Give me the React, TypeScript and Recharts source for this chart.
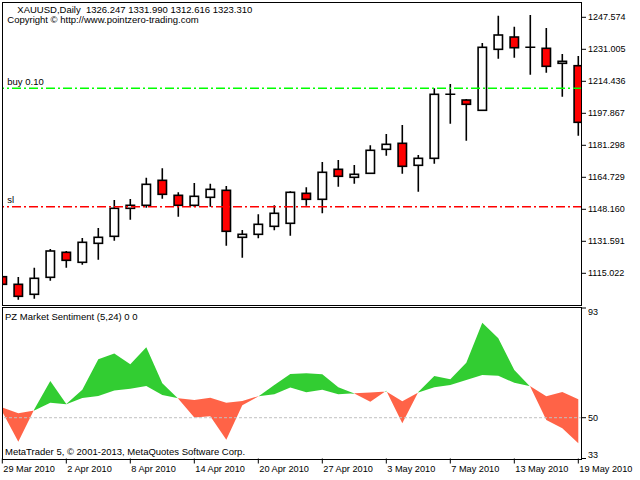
import React from "react";
import { ComposedChart, Bar, Area, XAxis, YAxis, ReferenceLine } from "recharts";

// XAUUSD daily bars, 29 Mar – 19 May 2010
const dates = [
  "29 Mar 2010", "30 Mar 2010", "31 Mar 2010", "1 Apr 2010", "2 Apr 2010",
  "5 Apr 2010", "6 Apr 2010", "7 Apr 2010", "8 Apr 2010", "9 Apr 2010",
  "12 Apr 2010", "13 Apr 2010", "14 Apr 2010", "15 Apr 2010", "16 Apr 2010",
  "19 Apr 2010", "20 Apr 2010", "21 Apr 2010", "22 Apr 2010", "23 Apr 2010",
  "27 Apr 2010", "28 Apr 2010", "29 Apr 2010", "30 Apr 2010", "3 May 2010",
  "4 May 2010", "5 May 2010", "6 May 2010", "7 May 2010", "10 May 2010",
  "11 May 2010", "12 May 2010", "13 May 2010", "14 May 2010", "17 May 2010",
  "18 May 2010", "19 May 2010",
];

const opens = [
  1113.26, 1109.32, 1104.15, 1112.95, 1125.89, 1120.72, 1130.55, 1134.17, 1148.67, 1150.23,
  1163.17, 1155.4, 1150.23, 1154.37, 1157.99, 1133.66, 1135.21, 1139.35, 1140.91, 1156.44,
  1153.34, 1168.87, 1164.73, 1166.8, 1179.22, 1182.33, 1170.94, 1174.56, 1207.7, 1204.75,
  1199.42, 1231.0, 1237.37, 1232.04, 1231.52, 1223.75, 1222.51,
];
const highs = [
  1113.5, 1113.1, 1117.92, 1127.6, 1126.57, 1133.3, 1138.47, 1152.97, 1153.49, 1164.52,
  1169.38, 1156.96, 1161.77, 1161.41, 1160.22, 1137.44, 1145.57, 1150.23, 1157.47, 1159.55,
  1172.65, 1173.69, 1171.1, 1181.3, 1187.15, 1191.81, 1176.27, 1210.81, 1213.04, 1205.27,
  1234.27, 1248.4, 1242.71, 1248.77, 1242.03, 1228.57, 1227.53,
];
const lows = [
  1109.0, 1101.35, 1101.87, 1111.19, 1117.92, 1119.47, 1122.06, 1131.9, 1142.77, 1148.98,
  1153.65, 1144.32, 1149.5, 1149.5, 1129.31, 1123.1, 1133.14, 1137.28, 1134.49, 1150.02,
  1146.09, 1159.86, 1161.41, 1166.5, 1175.91, 1166.59, 1157.27, 1171.77, 1192.48, 1183.68,
  1199.2, 1226.14, 1226.65, 1217.85, 1218.89, 1206.46, 1186.26,
];
const closes = [
  1109.32, 1103.11, 1112.43, 1126.57, 1121.75, 1131.07, 1133.66, 1148.67, 1150.23, 1161.1,
  1155.92, 1150.23, 1154.89, 1158.51, 1136.77, 1135.21, 1140.39, 1146.09, 1156.96, 1153.34,
  1167.32, 1165.25, 1166.28, 1178.71, 1181.81, 1170.42, 1174.56, 1207.7, 1207.7, 1202.53,
  1232.04, 1238.41, 1231.83, 1232.04, 1222.2, 1224.79, 1193.2,
];

// PZ Market Sentiment (5,24): fast and slow lines
const sentFast = [
  52.4, 40.4, 53.4, 64.6, 55.5, 61.1, 73.3, 75.6, 71.3, 78.1,
  63.7, 57.6, 50.1, 50.6, 41.2, 55.0, 58.5, 63.0, 67.4, 67.7,
  67.3, 62.1, 59.6, 56.4, 60.7, 47.8, 60.2, 66.6, 65.3, 71.9,
  87.8, 81.7, 69.0, 62.3, 49.1, 45.8, 39.8,
];
const sentSlow = [
  54.1, 51.8, 52.9, 56.0, 55.4, 57.9, 58.7, 60.8, 61.5, 62.6,
  59.0, 57.8, 57.1, 58.0, 56.0, 56.7, 58.6, 59.3, 62.0, 60.1,
  61.1, 59.3, 59.7, 60.0, 60.4, 56.6, 60.0, 62.1, 63.0, 65.0,
  67.0, 66.7, 63.9, 62.5, 58.6, 60.2, 57.4,
];

const priceTicks = [1115.022, 1131.591, 1148.16, 1164.729, 1181.298, 1197.867, 1214.436, 1231.005, 1247.574];
const dateTicks = [0, 4, 8, 12, 16, 20, 24, 28, 32, 36];
const buyLevel = 1210.81;
const slLevel = 1149.5;
const sentMax = 93.71;
const sentMin = 33.75;

const bars = dates.map((date, i) => ({
  i,
  date,
  open: opens[i],
  high: highs[i],
  low: lows[i],
  close: closes[i],
  fast: sentFast[i],
  slow: sentSlow[i],
}));

const FONT = "'Liberation Sans', Arial, sans-serif";
const xDomain: [number, number] = [-0.01875, 36.23125];

// candle body/wick drawn inside the [low, high] range bar
function Candle(props: any) {
  const { x, y, width, height, payload } = props;
  const cx = x + width / 2;
  const top = Math.min(y, y + height);
  const bottom = Math.max(y, y + height);
  const span = payload.high - payload.low || 1;
  const toY = (v: number) => top + ((payload.high - v) / span) * (bottom - top);
  const yo = toY(payload.open);
  const yc = toY(payload.close);
  const bTop = Math.min(yo, yc);
  const bBot = Math.max(yo, yc);
  const down = payload.close < payload.open;
  return (
    <g>
      <line x1={cx} x2={cx} y1={top} y2={bottom} stroke="#000" strokeWidth={1.6} />
      {bBot - bTop < 1 ? (
        <line x1={cx - 5} x2={cx + 5} y1={bTop} y2={bTop} stroke="#000" strokeWidth={1.6} />
      ) : (
        <rect
          x={cx - 4.2}
          y={bTop}
          width={8.4}
          height={bBot - bTop}
          fill={down ? "#FF0000" : "#FFFFFF"}
          stroke="#000"
          strokeWidth={1.6}
        />
      )}
    </g>
  );
}

const lineTag = (text: string) => (props: any) => {
  const vb = props.viewBox;
  return (
    <text x={vb.x + 5.3} y={vb.y - 3.4} fontSize={9.5} fontFamily={FONT} fill="#000">
      {text}
    </text>
  );
};

function DateTick(props: any) {
  const { x, y, payload } = props;
  return (
    <text x={x + 1} y={y + 6} fontSize={9.2} fontFamily={FONT} fill="#000" textAnchor="start">
      {dates[payload.value]}
    </text>
  );
}

function LevelTick(props: any) {
  const { x, y, payload } = props;
  const v = payload.value;
  const shift = v === sentMax ? 4 : v === sentMin ? -4 : 0;
  return (
    <text x={x} y={y + shift + 3.2} fontSize={9} fontFamily={FONT} fill="#000" textAnchor="start">
      {Math.floor(v)}
    </text>
  );
}

// green where fast > slow, tomato where fast < slow; hard stops at crossings
function sentimentStops() {
  const n = bars.length - 1;
  const col = (d: number) => (d >= 0 ? "#32CD32" : "#FF6347");
  const stops: { offset: number; color: string }[] = [];
  let d0 = sentFast[0] - sentSlow[0];
  stops.push({ offset: 0, color: col(d0) });
  for (let i = 0; i < n; i++) {
    const d1 = sentFast[i + 1] - sentSlow[i + 1];
    if ((d0 >= 0) !== (d1 >= 0)) {
      const t = d0 / (d0 - d1);
      const off = (i + t) / n;
      stops.push({ offset: off, color: col(d0) });
      stops.push({ offset: off, color: col(d1) });
    }
    d0 = d1;
  }
  stops.push({ offset: 1, color: col(d0) });
  return stops;
}

export default function App() {
  const stops = sentimentStops();
  const frame: React.CSSProperties = {
    position: "absolute",
    left: 2,
    width: 580,
    boxSizing: "border-box",
    border: "1px solid #000",
    pointerEvents: "none",
  };
  return (
    <div style={{ position: "absolute", left: 0, top: 0, width: 640, height: 480, background: "#fff", overflow: "hidden" }}>
      <div style={{ position: "absolute", left: 0, top: 0 }}>
        <ComposedChart width={640} height={306} data={bars} margin={{ top: 3, right: 0, bottom: 0.5, left: 2 }}>
          <XAxis type="number" dataKey="i" domain={xDomain} allowDataOverflow hide height={0} />
          <YAxis
            orientation="right"
            width={58}
            domain={[1098.35, 1254.98]}
            ticks={priceTicks}
            allowDataOverflow
            axisLine={false}
            tickSize={4}
            tickMargin={2}
            tickLine={{ stroke: "#000" }}
            tick={{ fill: "#000", fontSize: 9, fontFamily: FONT }}
            tickFormatter={(v: number) => v.toFixed(3)}
            interval={0}
          />
          <ReferenceLine y={buyLevel} stroke="#00FF00" strokeWidth={1.6} strokeDasharray="9 3 2 3" label={lineTag("buy 0.10")} />
          <ReferenceLine y={slLevel} stroke="#FF0000" strokeWidth={1.6} strokeDasharray="9 3 2 3" label={lineTag("sl")} />
          <Bar dataKey={(d: any) => [d.low, d.high]} barSize={10} shape={<Candle />} isAnimationActive={false} />
        </ComposedChart>
      </div>

      <div style={{ position: "absolute", left: 0, top: 300 }}>
        <ComposedChart width={640} height={180} data={bars} margin={{ top: 8, right: 0, bottom: 0, left: 2 }}>
          <defs>
            <linearGradient id="sentFill" x1="0" y1="0" x2="1" y2="0">
              {stops.map((s, k) => (
                <stop key={k} offset={s.offset} stopColor={s.color} />
              ))}
            </linearGradient>
          </defs>
          <XAxis
            type="number"
            dataKey="i"
            domain={xDomain}
            allowDataOverflow
            ticks={dateTicks}
            interval={0}
            height={21.5}
            axisLine={false}
            tickSize={5}
            tickLine={{ stroke: "#000" }}
            tick={<DateTick />}
          />
          <YAxis
            orientation="right"
            width={58}
            domain={[sentMin, sentMax]}
            ticks={[sentMax, 50, sentMin]}
            allowDataOverflow
            interval={0}
            axisLine={false}
            tickSize={4}
            tickMargin={2}
            tickLine={{ stroke: "#000" }}
            tick={<LevelTick />}
          />
          <ReferenceLine y={50} stroke="#C0C0C0" strokeDasharray="3 2" />
          <Area
            type="linear"
            dataKey={(d: any) => [d.slow, d.fast]}
            stroke="none"
            fill="url(#sentFill)"
            fillOpacity={1}
            dot={false}
            activeDot={false}
            isAnimationActive={false}
          />
        </ComposedChart>
      </div>

      <div style={{ ...frame, top: 2, height: 304 }} />
      <div style={{ ...frame, top: 307, height: 153 }} />

      <svg width={640} height={480} style={{ position: "absolute", left: 0, top: 0, pointerEvents: "none" }}>
        <g fontFamily={FONT} fontSize={9.5} fill="#000">
          <text x={17.3} y={12.5} style={{ whiteSpace: "pre" }}>
            {"XAUUSD,Daily  1326.247 1331.990 1312.616 1323.310"}
          </text>
          <text x={7.3} y={23.3}>Copyright © http://www.pointzero-trading.com</text>
          <text x={5} y={320}>PZ Market Sentiment (5,24) 0 0</text>
          <text x={5} y={455}>MetaTrader 5, © 2001-2013, MetaQuotes Software Corp.</text>
        </g>
      </svg>
    </div>
  );
}
